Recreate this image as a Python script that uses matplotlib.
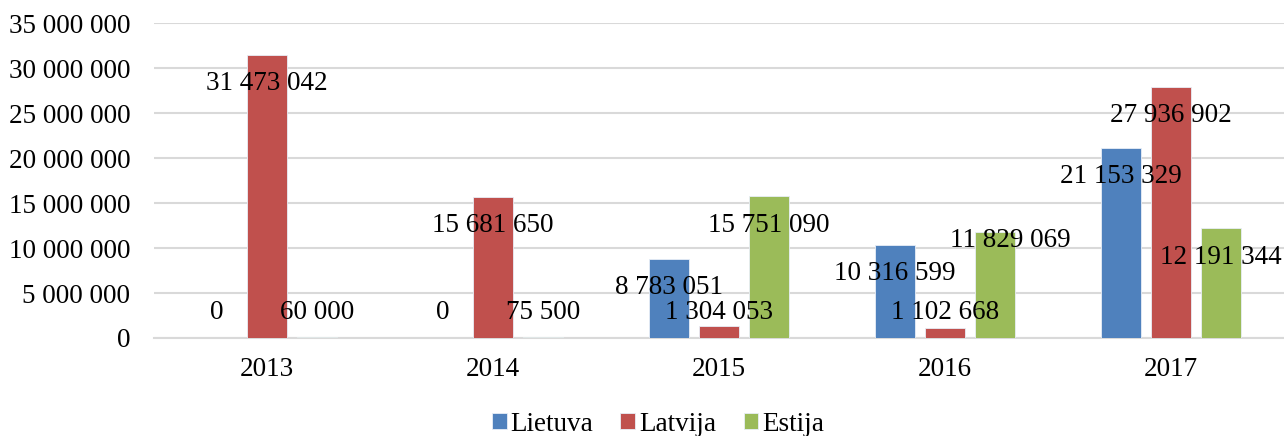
import matplotlib.pyplot as plt
import numpy as np

years = ["2013", "2014", "2015", "2016", "2017"]
lietuva = [0, 0, 8783051, 10316599, 21153329]
latvija = [31473042, 15681650, 1304053, 1102668, 27936902]
estija = [60000, 75500, 15751090, 11829069, 12191344]

series = [("Lietuva", lietuva, "#4F81BD"),
          ("Latvija", latvija, "#C0504D"),
          ("Estija", estija, "#9BBB59")]

plt.rcParams['font.family'] = ['Liberation Serif', 'DejaVu Serif']
plt.rcParams['font.size'] = 19.5

fig = plt.figure(figsize=(12.84, 4.36), dpi=100)
ax = fig.add_axes([0.12, 0.2248, 0.88, 0.7222])

x = np.arange(len(years))
width = 0.177
step = 0.221

def fmt(v):
    return f"{int(v):,}".replace(",", " ")

for i, (name, vals, color) in enumerate(series):
    pos = x + (i - 1) * step
    ax.bar(pos, vals, width, color=color, edgecolor="#e8eef7", linewidth=0.6,
           label=name, zorder=3)
    for px, v in zip(pos, vals):
        # label sits inside the bar end, but not below the axis
        ly = max(v - 3.2e6, 2.78e6)
        dx = 0
        if name == "Estija" and v == 11829069:
            ly = v - 0.95e6
            dx = 0.066
        ax.text(px + dx, ly, fmt(v), ha="center", va="center", zorder=4)

ax.set_xlim(-0.5, len(years) - 0.5)
ax.set_ylim(0, 35000000)
ax.set_yticks(np.arange(0, 35000001, 5000000))
ax.set_yticklabels([fmt(t) for t in ax.get_yticks()])
ax.set_xticks(x)
ax.set_xticklabels(years)
ax.yaxis.grid(True, color="#d9d9d9", linewidth=1.5, zorder=0)
ax.set_axisbelow(True)
for s in ["top", "right", "left"]:
    ax.spines[s].set_visible(False)
ax.spines["bottom"].set_color("#d9d9d9")
ax.spines["bottom"].set_linewidth(1.5)
ax.tick_params(axis="both", length=0)
ax.tick_params(axis="y", pad=17)
ax.tick_params(axis="x", pad=14)

fig.legend(loc="center", bbox_to_anchor=(658 / 1284, 1 - 424 / 436), ncol=3,
           frameon=False, handlelength=0.55, handleheight=0.55,
           handletextpad=0.15, columnspacing=1.0, borderaxespad=0)

fig.savefig("out.png", dpi=100)
